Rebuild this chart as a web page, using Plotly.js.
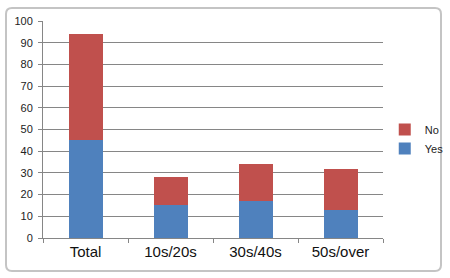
<!DOCTYPE html>
<html>
<head>
<meta charset="utf-8">
<script src="https://cdn.plot.ly/plotly-3.0.1.min.js"></script>
<style>html,body{margin:0;padding:0;background:#fff;}#chart{width:450px;height:278px;}</style>
</head>
<body>
<div id="chart"></div>
<script>
const categories = ["Total", "10s/20s", "30s/40s", "50s/over"];
const yesValues = [45, 15, 17, 13];
const noValues = [49, 13, 17, 19];
const yTicks = [0, 10, 20, 30, 40, 50, 60, 70, 80, 90, 100];

const fontFam = "Liberation Sans, Arial, sans-serif";

const traces = [
  { type: "bar", name: "Yes", x: categories, y: yesValues, marker: { color: "#4f81bd" }, hoverinfo: "none" },
  { type: "bar", name: "No", x: categories, y: noValues, marker: { color: "#c0504d" }, hoverinfo: "none" }
];

// rounded frame path in paper coords
const x0 = -0.1088, x1 = 1.1706, y0 = -0.152, y1 = 1.06, rx = 0.0176, ry = 0.0276;
const framePath = `M${x0+rx},${y1} L${x1-rx},${y1} Q${x1},${y1} ${x1},${y1-ry} L${x1},${y0+ry} Q${x1},${y0} ${x1-rx},${y0} L${x0+rx},${y0} Q${x0},${y0} ${x0},${y0+ry} L${x0},${y1-ry} Q${x0},${y1} ${x0+rx},${y1} Z`;

const layout = {
  width: 450, height: 278,
  margin: { l: 43, r: 67, t: 21, b: 40, pad: 0, autoexpand: false },
  paper_bgcolor: "#ffffff",
  plot_bgcolor: "#ffffff",
  barmode: "stack",
  bargap: 0.6,
  showlegend: true,
  legend: {
    xref: "container", yref: "container",
    x: 0.855, xanchor: "left", y: 0.5, yanchor: "middle",
    traceorder: "reversed",
    font: { family: fontFam, size: 11, color: "#222" },
    itemwidth: 30,
    bgcolor: "rgba(0,0,0,0)"
  },
  xaxis: {
    type: "category",
    showline: true, linecolor: "#868686", linewidth: 1,
    ticks: "outside", tickson: "boundaries", ticklen: 4, tickcolor: "#868686",
    tickfont: { family: fontFam, size: 15, color: "#111" },
    showgrid: false, zeroline: false, fixedrange: true
  },
  yaxis: {
    range: [0, 100],
    tickvals: yTicks,
    ticktext: yTicks.map(String),
    showline: true, linecolor: "#868686", linewidth: 1,
    ticks: "outside", ticklen: 4, tickcolor: "#868686",
    ticklabelstandoff: 3,
    showgrid: true, gridcolor: "#868686", gridwidth: 1,
    zeroline: false,
    tickfont: { family: fontFam, size: 11, color: "#222" },
    fixedrange: true
  },
  shapes: [
    { type: "path", xref: "paper", yref: "paper", path: framePath,
      line: { color: "#c4c4c4", width: 2 }, fillcolor: "rgba(0,0,0,0)", layer: "below" }
  ]
};

Plotly.newPlot("chart", traces, layout, { displayModeBar: false, staticPlot: true });
</script>
</body>
</html>
